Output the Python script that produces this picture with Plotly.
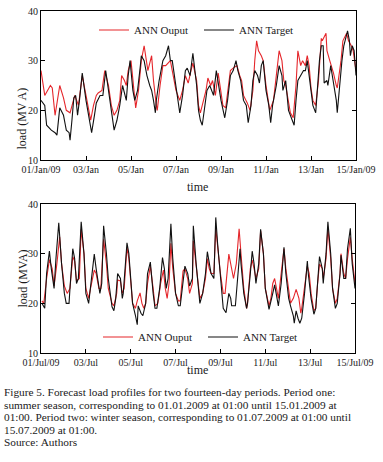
import plotly.graph_objects as go

# ---------------- data (hours from start, load in MVA) ----------------
jan_out_h = [0,4,10,12,15,20,24,27,31,34,36,40,44,48,50,53,56,59,61,65,68,72,75,78,81,84,86,89,91,93,96,98,101,104,107,110,112,114,118,120,123,124,127,130,133,136,138,140,144,148,151,154,157,160,162,166,168,170,172,176,178,181,183,186,189,192,194,197,202,205,209,212,214,216,220,223,226,228,230,232,235,237,240,244,248,251,254,257,259,261,264,266,269,272,274,277,279,282,284,286,288,290,293,296,299,300,304,305,308,312,315,316,320,322,326,328,331,333,336]
jan_out_v = [28,23,25,24.5,19,25,22.5,20,19.5,22,23,21,27,23,21,18,21,23,23.5,24,28,25,21,19,20,22,27,26,25,28,30,26,20.5,24,30,33,30,28,31,26,21,20,25,29,29,29.5,30,28,24,22,24,27,25.5,28,29.5,26,21,19.5,21,24,26.5,25,26,23,27.5,24,21,20.5,28,28.5,29,27,26,23,21.5,20,24,30,34,32,31,30,25,20,22,27,32,30,26,25,22,19.5,18.5,25,32,29,30,29,31,29,24.5,22,21,26,34.5,34,35.5,32,30,27.5,25,24.5,30,34,35.5,34,33,32,28]

jan_tgt_h = [0,4,6,11,15,17,20,24,26,27,30,31,33,35,37,39,41,44,48,50,54,57,59,63,66,69,72,75,78,81,84,87,90,91,93,95,96,98,100,103,106,107,110,113,116,118,120,122,123,126,130,133,136,138,140,144,148,151,154,156,159,162,163,166,168,170,172,175,177,180,184,187,191,192,196,199,202,205,208,210,213,216,219,221,224,226,228,231,233,235,237,240,243,245,247,251,254,257,258,261,264,267,270,272,274,277,280,282,284,286,288,290,293,295,297,299,301,302,305,306,309,312,315,316,318,321,323,327,329,330,332,334,336]
jan_tgt_v = [22,21,17,16,15.5,15,20.5,19,17,16,15.5,14,18,22.5,23,19,22,27.5,22,20,15.5,19,21.5,23,23,28,24,19.5,16,18,21,25,23,22,27,30,28,24,22,24,29,31,30,27,25,24,22,19.5,22,26,30,31,33,30,30,25,19.5,23,28,28.5,27,31.5,30,25,20,18,17,21,24,25,23,28,23,22,18.5,22,27,28,30,28,26,22,21,17.5,21,26,28,27,25.5,29,30,24,21,17.5,21,25,29,27,24,26,20,18.5,17,22,26,27,28,28,30,27,24,21,19.5,25,30,33,33,25.5,26,25,29,25.5,22,19.5,24,30,33,36,34,31,33,32,27]

jul_out_h = [1,3,6,9,12,14,17,20,22,25,28,31,34,36,38,41,43,46,48,51,53,57,59,62,64,67,70,72,76,78,81,82,85,87,89,92,94,96,98,101,103,106,108,110,112,114,117,120,122,125,128,131,133,135,137,139,141,144,147,149,152,154,157,159,162,163,166,169,170,173,176,178,180,182,185,187,189,192,195,197,201,203,206,209,212,214,217,220,221,224,226,228,230,233,235,238,240,244,246,248,250,253,254,257,260,262,265,267,270,273,276,278,279,282,285,287,289,292,294,296,298,301,302,305,307,310,312,315,317,320,321,324,326,328,331,333,335,336]
jul_out_v = [20.5,20,25,28.8,27,23.5,28,33.4,28,23.5,22,23,29.4,28.5,24.5,25,34.9,30,23,21,23,26.7,26,23,23,32.9,28,23,20,19.5,22,24.7,24.5,22,23,31.3,29,24,20,19,20.5,22.1,20,19,20,24,27.5,23,19.5,20,24,26.7,23,21,24,32.1,27,22,20.5,20.5,26.5,27,25,22,24,32.6,27,22,21,22,25,29,27,26,26,35.1,31,26,22,22,29.9,28,25,28,35,30,23,19,20,27,28.7,27,25,27,34.6,30,23,19.5,21,24,25,22,21,26,31,27,22,20,21,22.8,21,18,19,23,27.5,26,22,18.5,19,24,27.9,27,25,29,35.1,29,23,20,21,26,30,26,25,29,33.3,29,26,24]

jul_tgt_h = [1,4,6,9,11,14,16,19,22,25,27,30,31,34,36,38,40,43,46,48,51,53,57,59,62,63,65,67,70,72,76,78,80,82,85,87,88,92,94,96,98,101,103,104,107,109,112,114,117,120,122,124,127,130,132,134,136,139,141,144,147,149,152,154,157,159,162,163,166,169,170,173,176,178,180,182,185,187,189,192,195,198,201,203,204,208,210,213,214,217,220,221,224,226,228,230,233,235,238,240,244,245,248,250,253,254,257,260,262,265,267,270,271,273,275,277,279,282,285,286,289,292,294,296,298,301,302,305,307,310,312,315,317,320,321,324,326,328,331,333,335,336]
jul_tgt_v = [20,19,26,30.5,27,23,29,36.2,28,22,20,20,23,31,29,24,25,36.4,30,22,20,23,29.9,27,23,22,24,35.6,30,25,19.3,18.5,21,26,25,21,22,32.2,30,25,20,17.6,15.7,19.5,18,17.5,20,26,28.3,22,19,19,23,29.2,27,23,25,36,29,22,19.5,19.5,25,27.5,26,23.5,25,35.6,28,21,20,22,26,30.4,28,26,25,37.3,32,25,19,18.1,22,21,19.5,19.5,24,31,28,22,19,20,26,30.5,28,24,28,34.9,30,23,18.8,19.5,22,23.7,20,19.5,24,31.3,26,21,19.5,17.5,16,18.5,17,16,17,22,28.5,26,21,17.8,19,24,29.4,27,24,30,36.4,30,23,19,20,26,29.7,25,25,31,35.1,28,24,23]

tick_hours = [0, 48, 96, 144, 192, 240, 288, 336]
jan_labels = ["01/Jan/09", "03/Jan", "05/Jan", "07/Jan", "09/Jan", "11/Jan", "13/Jan", "15/Jan/09"]
jul_labels = ["01/Jul/09", "03/Jul", "05/Jul", "07/Jul", "09/Jul", "11/Jul", "13/Jul", "15/Jul/09"]
y_ticks = [10, 20, 30, 40]

caption_lines = [
    "Figure 5. Forecast load profiles for two fourteen-day periods. Period one:",
    "summer season, corresponding to 01.01.2009 at 01:00 until 15.01.2009 at",
    "01:00. Period two: winter season, corresponding to 01.07.2009 at 01:00 until",
    "15.07.2009 at 01:00.",
    "Source: Authors",
]

# ---------------- layout helpers ----------------
W, H = 383, 462
FONT = "Liberation Serif, Times New Roman, serif"
RED = "#e5262b"
BLK = "#111111"
TXT = "#1a1a1a"

def px(x):
    return x / W

def py(y):
    return 1 - y / H

fig = go.Figure()

def add_pair(out_h, out_v, tgt_h, tgt_v, xa, ya, leg):
    fig.add_trace(go.Scatter(x=out_h, y=out_v, mode="lines", name="ANN Ouput",
                             line=dict(color=RED, width=1.1), xaxis=xa, yaxis=ya,
                             legend=leg))
    fig.add_trace(go.Scatter(x=tgt_h, y=tgt_v, mode="lines", name="ANN Target",
                             line=dict(color=BLK, width=1.1), xaxis=xa, yaxis=ya,
                             legend=leg))

add_pair(jan_out_h, jan_out_v, jan_tgt_h, jan_tgt_v, "x", "y", "legend")
add_pair(jul_out_h, jul_out_v, jul_tgt_h, jul_tgt_v, "x2", "y2", "legend2")

xcommon = dict(range=[0, 336], tickmode="array", tickvals=tick_hours,
               ticks="inside", ticklen=4, tickcolor="black", showline=True,
               linecolor="black", linewidth=1, mirror=True, showgrid=False,
               zeroline=False, automargin=False,
               tickfont=dict(family=FONT, size=10, color=TXT))
ycommon = dict(range=[10, 40], tickmode="array", tickvals=y_ticks,
               ticks="inside", ticklen=4, tickcolor="black", showline=True,
               linecolor="black", linewidth=1, mirror="ticks", showgrid=False,
               zeroline=False, automargin=False,
               tickfont=dict(family=FONT, size=10, color=TXT))

legcommon = dict(orientation="h", xanchor="left", yanchor="middle",
                 font=dict(family=FONT, size=11, color=TXT),
                 bgcolor="rgba(0,0,0,0)", borderwidth=0,
                 entrywidth=60, entrywidthmode="pixels", itemwidth=30,
                 tracegroupgap=0)

fig.update_layout(
    width=W, height=H,
    margin=dict(l=0, r=0, t=0, b=0, autoexpand=False),
    paper_bgcolor="white", plot_bgcolor="white",
    xaxis=dict(domain=[px(41), px(356)], anchor="y", ticktext=jan_labels, **xcommon),
    yaxis=dict(domain=[py(160), py(11)], anchor="x", **ycommon),
    xaxis2=dict(domain=[px(41), px(355)], anchor="y2", ticktext=jul_labels, **xcommon),
    yaxis2=dict(domain=[py(353), py(204)], anchor="x2", **ycommon),
    legend=dict(x=px(94), y=py(30), **legcommon),
    legend2=dict(x=px(98), y=py(337), **legcommon),
    showlegend=True,
)

ann = []
# axis titles
ann.append(dict(text="load (MV A)", x=px(13), y=py(85.5), xref="paper", yref="paper",
                showarrow=False, textangle=-90, font=dict(family=FONT, size=12, color=TXT)))
ann.append(dict(text="load (MVA)", x=px(13), y=py(278.5), xref="paper", yref="paper",
                showarrow=False, textangle=-90, font=dict(family=FONT, size=12, color=TXT)))
ann.append(dict(text="time", x=px(197), y=py(187), xref="paper", yref="paper",
                showarrow=False, font=dict(family=FONT, size=12, color=TXT)))
ann.append(dict(text="time", x=px(197), y=py(379), xref="paper", yref="paper",
                showarrow=False, font=dict(family=FONT, size=12, color=TXT)))
# caption
cap_y = [392, 404.6, 417.2, 429.8, 442.4]
for line, yy in zip(caption_lines, cap_y):
    ann.append(dict(text=line, x=px(2), y=py(yy), xref="paper", yref="paper",
                    xanchor="left", yanchor="middle", showarrow=False,
                    font=dict(family=FONT, size=11.3, color=TXT)))
fig.update_layout(annotations=ann)

fig.write_html("out.html", config={"displayModeBar": False},
               post_script="document.body.style.margin='0px';")
